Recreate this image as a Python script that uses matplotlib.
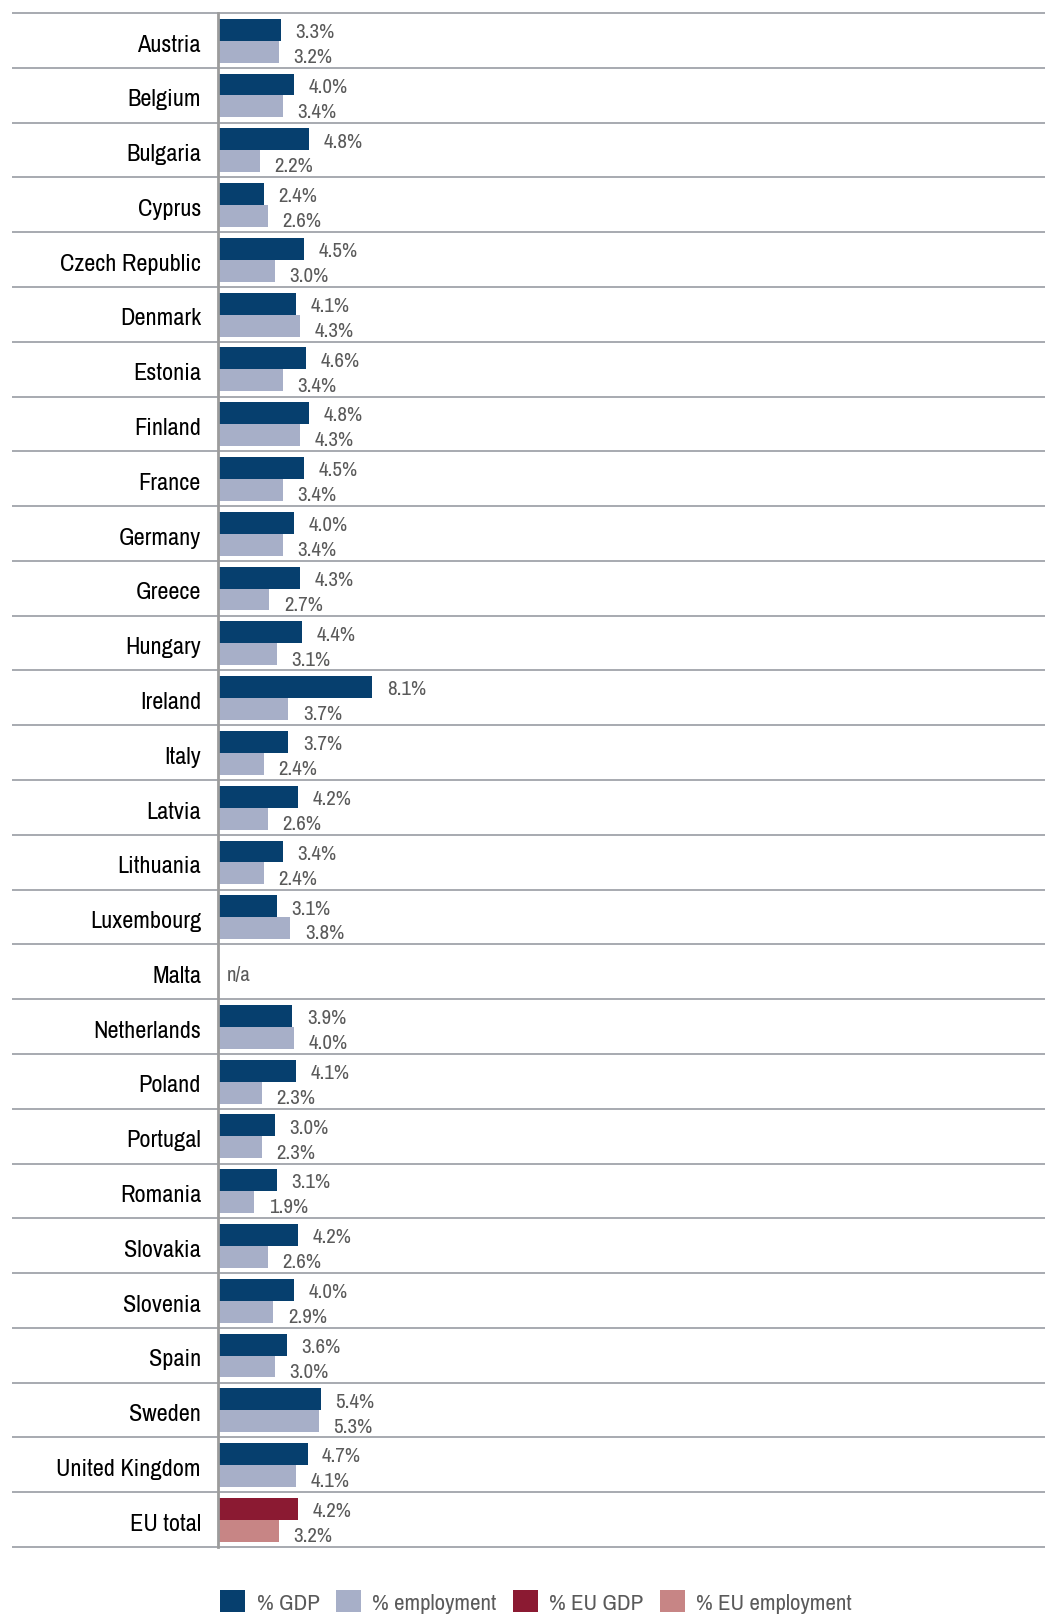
import matplotlib
matplotlib.use("Agg")
import matplotlib.pyplot as plt
from matplotlib import font_manager
from matplotlib.transforms import blended_transform_factory
from matplotlib.patches import Patch

countries = ["Austria", "Belgium", "Bulgaria", "Cyprus", "Czech Republic", "Denmark",
             "Estonia", "Finland", "France", "Germany", "Greece", "Hungary", "Ireland",
             "Italy", "Latvia", "Lithuania", "Luxembourg", "Malta", "Netherlands",
             "Poland", "Portugal", "Romania", "Slovakia", "Slovenia", "Spain", "Sweden",
             "United Kingdom", "EU total"]
gdp_share = [3.3, 4.0, 4.8, 2.4, 4.5, 4.1, 4.6, 4.8, 4.5, 4.0, 4.3, 4.4, 8.1, 3.7, 4.2,
             3.4, 3.1, None, 3.9, 4.1, 3.0, 3.1, 4.2, 4.0, 3.6, 5.4, 4.7, 4.2]
employment_share = [3.2, 3.4, 2.2, 2.6, 3.0, 4.3, 3.4, 4.3, 3.4, 3.4, 2.7, 3.1, 3.7, 2.4,
                    2.6, 2.4, 3.8, None, 4.0, 2.3, 2.3, 1.9, 2.6, 2.9, 3.0, 5.3, 4.1, 3.2]
legend_labels = ["% GDP", "% employment", "% EU GDP", "% EU employment"]
missing_label = "n/a"

col_gdp = "#063f6e"
col_emp = "#a7afc8"
col_eu_gdp = "#8b1a32"
col_eu_emp = "#c78585"
txt_grey = "#5a5a5a"

# prefer a narrow sans face for the compact labels
available = {f.name for f in font_manager.fontManager.ttflist}
base = next((f for f in ["Archivo Narrow", "Roboto Condensed", "Liberation Sans Narrow",
                         "Fira Sans Condensed", "Liberation Sans"] if f in available), "DejaVu Sans")
plt.rcParams["font.family"] = [base, "DejaVu Sans"]

W, H = 1045, 1615
fig = plt.figure(figsize=(W / 100, H / 100), dpi=100)
ax_left, ax_right, ax_top, ax_bottom = 218, 1045, 14, 1548
ax = fig.add_axes([ax_left / W, 1 - ax_bottom / H, (ax_right - ax_left) / W,
                   (ax_bottom - ax_top) / H])
px_per_unit = 19.05
ax.set_xlim(0, (ax_right - ax_left) / px_per_unit)
n = len(countries)
ax.set_ylim(n, 0)

bar_h = 0.40
for i, (name, g, e) in enumerate(zip(countries, gdp_share, employment_share)):
    is_eu = name == "EU total"
    if g is None:
        ax.annotate(missing_label, (0, i + 0.52), xytext=(6, 0), textcoords="offset points",
                    ha="left", va="center_baseline", fontsize=15, color=txt_grey)
    else:
        ax.barh(i + 0.305, g, height=bar_h, color=col_eu_gdp if is_eu else col_gdp)
        ax.barh(i + 0.705, e, height=bar_h, color=col_eu_emp if is_eu else col_emp)
        ax.annotate(f"{g:.1f}%", (g, i + 0.30), xytext=(10.5, 0), textcoords="offset points",
                    ha="left", va="center_baseline", fontsize=15, color=txt_grey)
        ax.annotate(f"{e:.1f}%", (e, i + 0.755), xytext=(10.5, 0), textcoords="offset points",
                    ha="left", va="center_baseline", fontsize=15, color=txt_grey)

# row separators run across the label column too
blend = blended_transform_factory(fig.transFigure, ax.transData)
ax.hlines(range(n + 1), 12 / W, 1.0, transform=blend, colors="#a7aab0",
          linewidth=1.4, clip_on=False, zorder=1)

# category names, right-aligned against the axis
for i, name in enumerate(countries):
    ax.text(201 / W, i + 0.53, name, transform=blend, ha="right", va="center_baseline",
            fontsize=17.5, color="black")

for side in ["top", "right", "bottom"]:
    ax.spines[side].set_visible(False)
ax.spines["left"].set_color("#9c9c9c")
ax.spines["left"].set_linewidth(2.0)
ax.spines["left"].set_zorder(5)
ax.set_xticks([])
ax.set_yticks([])

handles = [Patch(facecolor=c, edgecolor="none") for c in (col_gdp, col_emp, col_eu_gdp, col_eu_emp)]
fig.legend(handles, legend_labels, loc="upper left", ncol=4, frameon=False,
           bbox_to_anchor=(220 / W, 1 - 1591 / H), borderpad=0, borderaxespad=0,
           fontsize=16.5, labelcolor=txt_grey, handlelength=1.1, handleheight=1.1,
           handletextpad=0.5, columnspacing=0.7)

fig.savefig("out.png", dpi=100)
